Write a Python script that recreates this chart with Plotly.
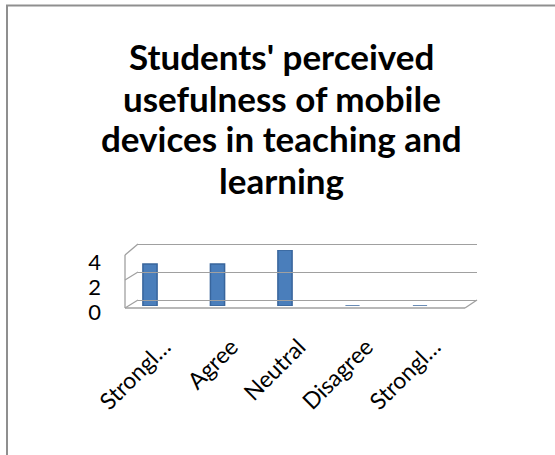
import plotly.graph_objects as go

# ---- data ----
categories = ["Strongly agree", "Agree", "Neutral", "Disagree", "Strongly disagree"]
tick_labels = ["Strongl…", "Agree", "Neutral", "Disagree", "Strongl…"]
values = [3, 3, 4, 0, 0]
y_ticks = [0, 2, 4]
title_lines = ["Students' perceived", "usefulness of mobile", "devices in teaching and", "learning"]

W, H = 555, 455

def fx(px):
    return px / W

def fy(py):
    return (H - py) / H

fig = go.Figure()

# bars (front plane)
fig.add_trace(go.Bar(
    x=categories, y=values, xaxis="x", yaxis="y",
    marker=dict(color="#4a7ebb", line=dict(color="#38659c", width=1.5)),
    width=0.21, hoverinfo="x+y", showlegend=False,
))
# invisible trace to build the back-wall grid subplot
fig.add_trace(go.Scatter(x=categories, y=[None] * len(categories), xaxis="x2", yaxis="y2",
                         mode="markers", showlegend=False, hoverinfo="skip"))
# invisible trace for tick-label axis
fig.add_trace(go.Scatter(x=categories, y=[None] * len(categories), xaxis="x", yaxis="y3",
                         mode="markers", showlegend=False, hoverinfo="skip"))

font_main = "Lato, 'Open Sans', sans-serif"

# back wall: 14 px per unit, value 0 at 300 px and 4 at 244 px; pad range by 0.2 units
pad = 0.2
fig.update_layout(
    width=W, height=H,
    margin=dict(l=0, r=0, t=0, b=0, autoexpand=False),
    paper_bgcolor="white", plot_bgcolor="rgba(0,0,0,0)",
    xaxis=dict(domain=[fx(116.25), fx(453.75)], anchor="y", automargin=False,
               tickmode="array", tickvals=categories, ticktext=tick_labels,
               tickangle=-45, tickfont=dict(family=font_main, size=23, color="black"),
               showgrid=False, zeroline=False, showline=False, ticks="",
               ticklabelstandoff=22, ticklabelshift=14,
               range=[-0.5, 4.5]),
    yaxis=dict(domain=[fy(306), fy(250)], range=[0, 4], anchor="x", automargin=False,
               showgrid=False, zeroline=False, showline=False, showticklabels=False, ticks=""),
    xaxis2=dict(domain=[fx(138), fx(477)], anchor="y2", range=[-0.5, 4.5], automargin=False,
                showgrid=False, zeroline=False, showline=False, showticklabels=False, ticks=""),
    yaxis2=dict(domain=[fy(300 + 14 * pad), fy(244 - 14 * pad)], range=[-pad, 4 + pad],
                anchor="x2", automargin=False,
                tickvals=y_ticks, showgrid=True, gridcolor="#a0a0a0", gridwidth=1.3,
                zeroline=False, showline=False, showticklabels=False, ticks=""),
    yaxis3=dict(domain=[fy(312), fy(262)], range=[0, 4], anchor="free", position=fx(101),
                automargin=False,
                tickvals=y_ticks, showgrid=False, zeroline=False, showline=False, ticks="",
                tickfont=dict(family=font_main, size=22, color="black")),
    bargap=0.8,
)

# title, one annotation per line
baselines = [68, 110, 150, 192]
for line, base in zip(title_lines, baselines):
    fig.add_annotation(text=f"<b>{line}</b>", xref="paper", yref="paper",
                       x=0.508, xanchor="center", y=fy(base - 12), yanchor="middle",
                       showarrow=False,
                       font=dict(family=font_main, size=35, color="black"))

# 3D frame (walls / floor edges) and chart border
frame_col = "#a0a0a0"
segs = [
    ((125, 308), (465, 308)),
    ((125, 255), (125, 308)),
    ((125, 255), (138, 244)),
    ((125, 280), (138, 272)),
    ((125, 308), (138, 300)),
    ((465, 308), (477, 300)),
]
for (x0, y0), (x1, y1) in segs:
    fig.add_shape(type="line", xref="paper", yref="paper",
                  x0=fx(x0), y0=fy(y0), x1=fx(x1), y1=fy(y1),
                  line=dict(color=frame_col, width=1.3), layer="below")

fig.add_shape(type="rect", xref="paper", yref="paper",
              x0=fx(7), y0=fy(5.5), x1=fx(600), y1=fy(500),
              line=dict(color="#8f8f8f", width=2), fillcolor="rgba(0,0,0,0)")

fig.write_html("out.html")
